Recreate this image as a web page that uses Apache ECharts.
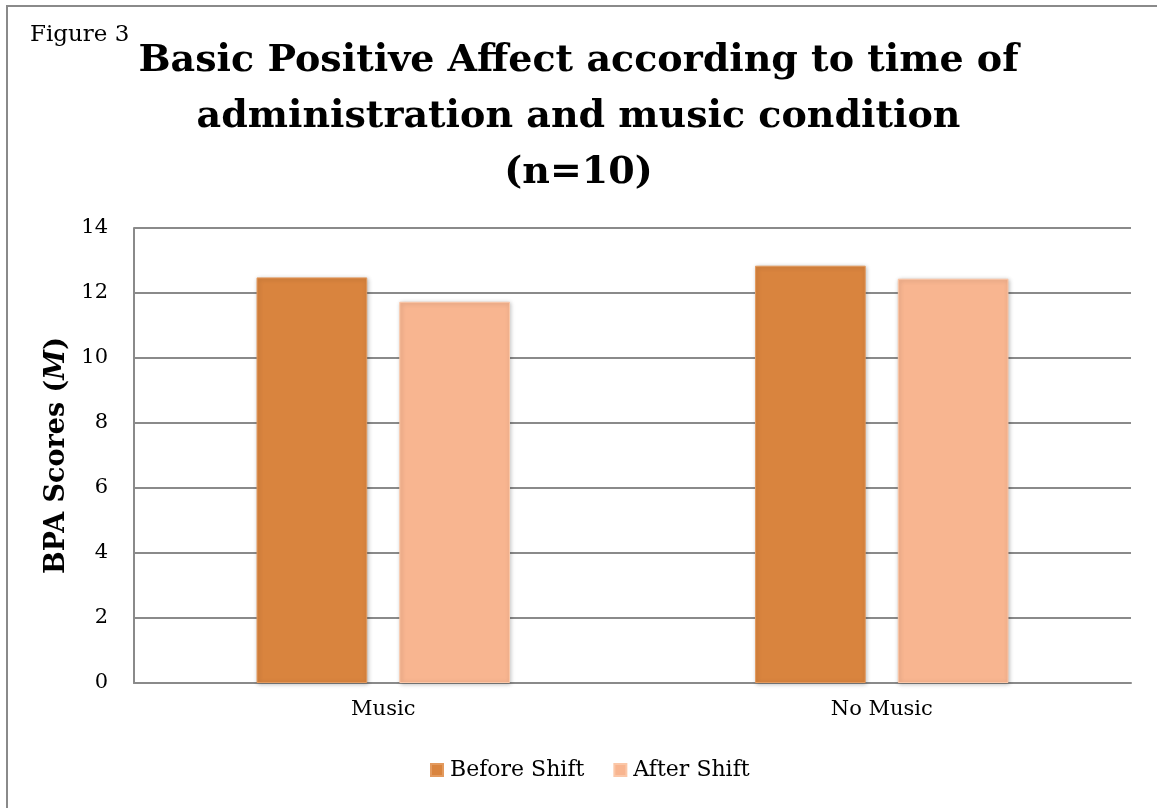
<!DOCTYPE html>
<html>
<head>
<meta charset="utf-8">
<script src="https://cdn.jsdelivr.net/npm/echarts@6/dist/echarts.min.js"></script>
<style>
html,body{margin:0;padding:0;background:#fff;}
#c{width:1157px;height:808px;}
</style>
</head>
<body>
<div id="c"></div>
<script>
const categories = ['Music', 'No Music'];
const seriesNames = ['Before Shift', 'After Shift'];
const beforeShift = [12.48, 12.84];
const afterShift = [11.73, 12.44];
const yTicks = [0, 2, 4, 6, 8, 10, 12, 14];

const SERIF = '"DejaVu Serif", "Liberation Serif", serif';
const chart = echarts.init(document.getElementById('c'));
chart.setOption({
  backgroundColor: '#ffffff',
  animation: false,
  graphic: [
    {type: 'rect', shape: {x: 7, y: 6, width: 1170, height: 820}, style: {fill: 'none', stroke: '#8a8a8a', lineWidth: 2}},
    {type: 'text', left: 30, top: 24, style: {text: 'Figure 3', font: '23px ' + SERIF, fill: '#000'}}
  ],
  title: {
    text: 'Basic Positive Affect according to time of\nadministration and music condition\n(n=10)',
    left: 'center',
    top: 28,
    textStyle: {fontFamily: SERIF, fontWeight: 'bold', fontSize: 38, lineHeight: 56, color: '#000'}
  },
  legend: {
    bottom: 22,
    left: 425,
    icon: 'rect',
    itemWidth: 12,
    itemHeight: 12,
    itemGap: 29,
    textStyle: {fontFamily: SERIF, fontSize: 22, color: '#000', padding: [0, 0, 0, 2]},
    data: seriesNames
  },
  grid: {left: 134, right: 26, top: 228, bottom: 125, containLabel: false},
  xAxis: {
    type: 'category',
    data: categories,
    axisLine: {show: true, lineStyle: {color: '#8a8a8a', width: 2}},
    axisTick: {show: false},
    axisLabel: {fontFamily: SERIF, fontSize: 21, color: '#000', margin: 16}
  },
  yAxis: {
    type: 'value',
    min: 0,
    max: 14,
    interval: 2,
    name: '{b|BPA Scores (}{i|M}{b|)}',
    nameLocation: 'middle',
    nameGap: 54,
    nameTextStyle: {
      rich: {
        b: {fontFamily: SERIF, fontWeight: 'bold', fontSize: 27, color: '#000'},
        i: {fontFamily: SERIF, fontWeight: 'bold', fontStyle: 'italic', fontSize: 27, color: '#000'}
      }
    },
    axisLine: {show: true, lineStyle: {color: '#8a8a8a', width: 2}},
    axisTick: {show: false},
    splitLine: {show: true, lineStyle: {color: '#8a8a8a', width: 2}},
    axisLabel: {fontFamily: SERIF, fontSize: 21, color: '#000', margin: 26,
      formatter: function (v) { return yTicks.indexOf(v) >= 0 ? String(v) : ''; }}
  },
  series: [
    {
      name: seriesNames[0], type: 'bar', data: beforeShift,
      barWidth: '22.2%', barGap: '29%',
      itemStyle: {color: '#D9843E', borderColor: '#E39A5E', borderWidth: 1,
        shadowBlur: 4, shadowColor: 'rgba(0,0,0,0.25)', shadowOffsetX: 1, shadowOffsetY: 1}
    },
    {
      name: seriesNames[1], type: 'bar', data: afterShift,
      barWidth: '22.2%', barGap: '29%',
      itemStyle: {color: '#F8B590', borderColor: '#FBC7A8', borderWidth: 1,
        shadowBlur: 4, shadowColor: 'rgba(0,0,0,0.25)', shadowOffsetX: 1, shadowOffsetY: 1}
    }
  ]
});
</script>
</body>
</html>
